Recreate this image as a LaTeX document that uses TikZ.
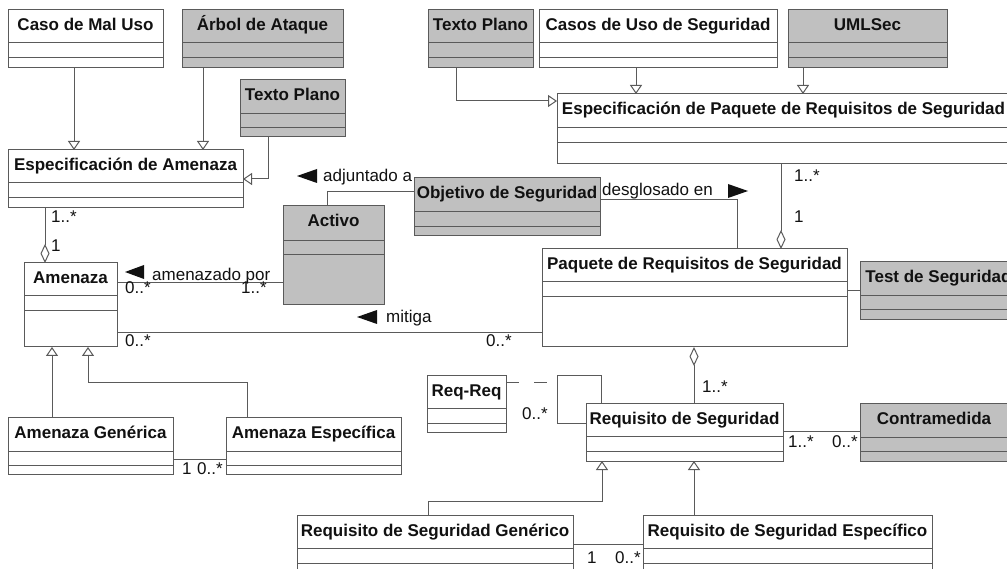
\documentclass[tikz,border=0pt]{standalone}
\usepackage{fontspec}
\setmainfont{Liberation Sans}
\usetikzlibrary{arrows.meta}
\definecolor{linec}{HTML}{5A5A5A}
\definecolor{grayfill}{HTML}{C0C0C0}
\definecolor{txt}{HTML}{111111}
\newcommand{\umlcls}[9]{%
  \pgfmathsetmacro{\clsw}{#4-#2}%
  \pgfmathsetmacro{\clsh}{#5-#3}%
  \node[clsbox, fill=#8, minimum width=\clsw pt, minimum height=\clsh pt] (#1) at (#2,#3) {};
  \draw[sepline] (#2,#6) -- (#4,#6);
  \draw[sepline] (#2,#7) -- (#4,#7);
  \node[ttl] (#1-t) at ({(#2+#4)/2},#3+21) {#9};
}
\begin{document}
\begin{tikzpicture}[x=1pt,y=-1pt,
  clsbox/.style={draw=linec, line width=1pt, anchor=north west, inner sep=0pt, outer sep=0pt},
  sepline/.style={draw=linec, line width=1pt},
  ttl/.style={font=\bfseries\fontsize{17}{20}\selectfont, anchor=base, inner sep=0pt, text=txt},
  lbl/.style={font=\fontsize{17}{20}\selectfont, anchor=base west, inner sep=0pt, text=txt},
  conn/.style={draw=linec, line width=1pt},
  gen/.style={conn, -{Triangle[open, length=9pt, width=12pt]}},
  agg/.style={conn, -{Diamond[open, length=19pt, width=9pt]}},
  aggs/.style={conn, {Diamond[open, length=19pt, width=9pt]}-},
]
\useasboundingbox (0,0) rectangle (1007,569);
\fill[white] (0,0) rectangle (1007,569);
\clip (0,0) rectangle (1007,569);

% classes
\umlcls{caso}{8}{10}{163}{68}{43}{58}{white}{Caso de Mal Uso}
\umlcls{arbol}{182}{10}{343}{68}{43}{58}{grayfill}{Árbol de Ataque}
\umlcls{tpl}{240}{80}{345}{137}{114}{128}{grayfill}{Texto Plano}
\umlcls{espA}{8}{150}{243}{208}{183}{198}{white}{Especificación de Amenaza}
\umlcls{tpr}{428}{10}{533}{68}{43}{58}{grayfill}{Texto Plano}
\umlcls{cus}{539}{10}{777}{68}{43}{58}{white}{Casos de Uso de Seguridad}
\umlcls{uml}{788}{10}{947}{68}{43}{58}{grayfill}{UMLSec}
\umlcls{eprs}{557}{94}{1010}{164}{128}{143}{white}{Especificación de Paquete de Requisitos de Seguridad}
\umlcls{obj}{414}{178}{600}{236}{212}{227}{grayfill}{Objetivo de Seguridad}
\umlcls{act}{283}{206}{384}{305}{241}{255}{grayfill}{Activo}
\umlcls{amen}{24}{263}{117}{347}{296}{311}{white}{Amenaza}
\umlcls{paq}{542}{249}{847}{347}{282}{297}{white}{Paquete de Requisitos de Seguridad}
\umlcls{test}{860}{262}{1017}{320}{296}{310}{grayfill}{Test de Seguridad}
\umlcls{rr}{427}{375}{506}{432}{408}{423}{white}{Req-Req}
\umlcls{req}{586}{403}{783}{461}{436}{451}{white}{Requisito de Seguridad}
\umlcls{contra}{860}{403}{1008}{461}{437}{451}{grayfill}{Contramedida}
\umlcls{ag}{8}{417}{173}{474}{451}{465}{white}{Amenaza Genérica}
\umlcls{ae}{226}{417}{401}{474}{451}{465}{white}{Amenaza Específica}
\umlcls{rg}{297}{515}{573}{590}{548}{563}{white}{Requisito de Seguridad Genérico}
\umlcls{re}{643}{515}{932}{590}{548}{563}{white}{Requisito de Seguridad Específico}

% helper coordinates
\coordinate (xc1) at (74,0);
\coordinate (xa) at (203,0);
\coordinate (btpl) at (268,179);
\coordinate (btpr) at (456,101);
\coordinate (xcus) at (636,0);
\coordinate (xuml) at (803,0);
\coordinate (xea) at (45,0);
\coordinate (xep) at (781,0);
\coordinate (yaa) at (0,283);
\coordinate (ymit) at (0,333);
\coordinate (badj) at (327,192);
\coordinate (bdes) at (737,200);
\coordinate (ytest) at (0,291);
\coordinate (xpr) at (694,0);
\coordinate (lp1) at (601,375);
\coordinate (lp2) at (557,423);
\coordinate (dsh) at (557,382);
\coordinate (yrc) at (0,431);
\coordinate (brg1) at (428,501);
\coordinate (brg2) at (602,0);
\coordinate (yrr) at (0,544);
\coordinate (xag) at (52,0);
\coordinate (bae1) at (247,382);
\coordinate (bae2) at (88,0);
\coordinate (yaga) at (0,459);

% connectors
\draw[gen] (caso.south -| xc1) -- (espA.north -| xc1);
\draw[gen] (arbol.south -| xa) -- (espA.north -| xa);
\draw[gen] (tpl.south -| btpl) -- (btpl) -- (espA.east |- btpl);
\draw[gen] (tpr.south -| btpr) -- (btpr) -- (eprs.west |- btpr);
\draw[gen] (cus.south -| xcus) -- (eprs.north -| xcus);
\draw[gen] (uml.south -| xuml) -- (eprs.north -| xuml);
\draw[agg] (espA.south -| xea) -- (amen.north -| xea);
\draw[agg] (eprs.south -| xep) -- (paq.north -| xep);
\draw[conn] (amen.east |- yaa) -- (act.west |- yaa);
\draw[conn] (amen.east |- ymit) -- (paq.west |- ymit);
\draw[conn] (act.north -| badj) -- (badj) -- (obj.west |- badj);
\draw[conn] (obj.east |- bdes) -- (bdes) -- (paq.north -| bdes);
\draw[conn] (paq.east |- ytest) -- (test.west |- ytest);
\draw[aggs] (paq.south -| xpr) -- (req.north -| xpr);
\draw[conn] (req.north -| lp1) -- (lp1) -- (lp1 -| lp2) -- (lp2) -- (req.west |- lp2);
\draw[conn, dash pattern=on 13pt off 15pt] (rr.east |- dsh) -- (dsh);
\draw[conn] (req.east |- yrc) -- (contra.west |- yrc);
\draw[gen] (rg.north -| brg1) -- (brg1) -- (brg1 -| brg2) -- (req.south -| brg2);
\draw[gen] (re.north -| xpr) -- (req.south -| xpr);
\draw[conn] (rg.east |- yrr) -- (re.west |- yrr);
\draw[gen] (ag.north -| xag) -- (amen.south -| xag);
\draw[gen] (ae.north -| bae1) -- (bae1) -- (bae1 -| bae2) -- (amen.south -| bae2);
\draw[conn] (ag.east |- yaga) -- (ae.west |- yaga);

% association names
\node[lbl] (l-amen) at (152,281) {amenazado por};
\fill[txt] (125,272) -- (144,265) -- (144,279) -- cycle;
\node[lbl] (l-adj) at (323,182) {adjuntado a};
\fill[txt] (297,176) -- (317,169) -- (317,183) -- cycle;
\node[lbl] (l-mit) at (386,323) {mitiga};
\fill[txt] (357,317) -- (377,310) -- (377,324) -- cycle;
\node[lbl] (l-des) at (602,196) {desglosado en};
\fill[txt] (748,191) -- (728,184) -- (728,198) -- cycle;

% multiplicities
\node[lbl] (m1) at (51,223) {1..*};
\node[lbl] (m2) at (51,252) {1};
\node[lbl] (m3) at (125,294) {0..*};
\node[lbl] (m4) at (241,294) {1..*};
\node[lbl] (m5) at (125,347) {0..*};
\node[lbl] (m6) at (486,347) {0..*};
\node[lbl] (m7) at (794,182) {1..*};
\node[lbl] (m8) at (794,223) {1};
\node[lbl] (m9) at (702,392) {1..*};
\node[lbl] (m10) at (522,419) {0..*};
\node[lbl] (m11) at (788,447) {1..*};
\node[lbl] (m12) at (832,447) {0..*};
\node[lbl] (m13) at (182,474) {1};
\node[lbl] (m14) at (197,474) {0..*};
\node[lbl] (m15) at (587,563) {1};
\node[lbl] (m16) at (615,563) {0..*};
\end{tikzpicture}
\end{document}
